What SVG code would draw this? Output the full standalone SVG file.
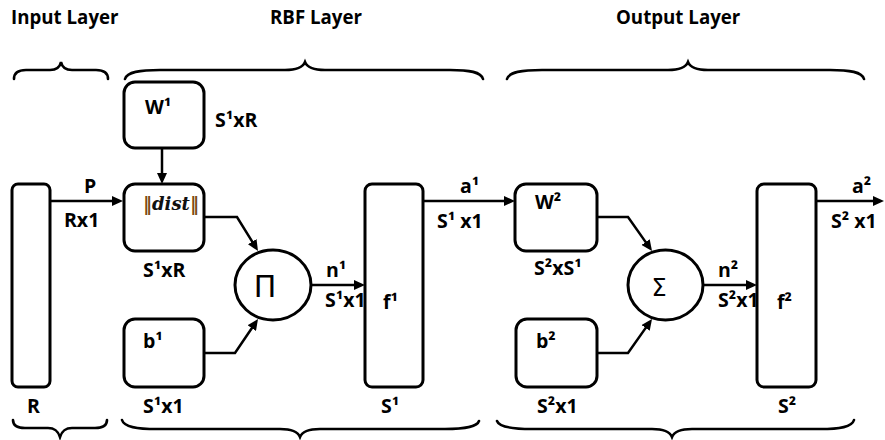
<svg xmlns="http://www.w3.org/2000/svg" width="885" height="440" viewBox="0 0 885 440">
<defs>
<style>
.box{fill:#fff;stroke:#000;stroke-width:3}
.ln{fill:none;stroke:#000;stroke-width:2.5}
.br{fill:none;stroke:#000;stroke-width:2.6;stroke-linecap:round}
.t{font-family:"Open Sans","Liberation Sans",sans-serif;font-weight:bold;font-size:19.5px;fill:#000}
.ttl{font-family:"Open Sans","Liberation Sans",sans-serif;font-weight:bold;font-size:18.7px;fill:#000}
.sym{font-family:"DejaVu Sans","Liberation Sans",sans-serif;fill:#000;text-anchor:middle}
</style>
<marker id="arr" viewBox="0 0 11 10" refX="5" refY="5" markerWidth="11" markerHeight="10" orient="auto" markerUnits="userSpaceOnUse">
<path d="M0,0 L11,5 L0,10 z" fill="#000"/>
</marker>
</defs>
<rect width="885" height="440" fill="#fff"/>

<g id="titles">
<text class="ttl" x="11" y="24">Input Layer</text>
<text class="ttl" x="270" y="24">RBF Layer</text>
<text class="ttl" x="616" y="24">Output Layer</text>
</g>

<g id="braces">
<path class="br" d="M14,79 Q14,70 26,70 L50,70 C57,70 60,67 61,62 C62,67 65,70 72,70 L96,70 Q108,70 108,79"/>
<path class="br" d="M125,79 C127,72 140,70 160,70 L285,70 C298,70 303,67 305,62 C307,67 312,70 325,70 L450,70 C470,70 481,72 483,79"/>
<path class="br" d="M507,79 C509,72 522,70 542,70 L668,70 C681,70 686,67 688,62 C690,67 695,70 708,70 L830,70 C850,70 862,72 864,79"/>
<path class="br" d="M13,420 Q13,428 25,428 L48,428 C55,428 58,431 60,437 C62,431 65,428 72,428 L95,428 Q107,428 107,420"/>
<path class="br" d="M122,420 C124,427 137,429 157,429 L280,429 C293,429 298,432 300,437 C302,432 307,429 320,429 L445,429 C465,429 477,427 479,421"/>
<path class="br" d="M497,421 C499,427 512,429 532,429 L652,429 C665,429 670,432 672,437 C674,432 679,429 692,429 L820,429 C840,429 852,427 854,420"/>
</g>

<g id="connectors">
<path class="ln" d="M50,201 H117" marker-end="url(#arr)"/>
<path class="ln" d="M162,148 V178" marker-end="url(#arr)"/>
<path class="ln" d="M204,217 H237 L254.85,245.9" marker-end="url(#arr)"/>
<path class="ln" d="M204,353 H235 L254.64,323.97" marker-end="url(#arr)"/>
<path class="ln" d="M311,285 H359" marker-end="url(#arr)"/>
<path class="ln" d="M423,201 H509" marker-end="url(#arr)"/>
<path class="ln" d="M597,217 H628 L648.54,246.1" marker-end="url(#arr)"/>
<path class="ln" d="M597,353 H628 L648.54,323.9" marker-end="url(#arr)"/>
<path class="ln" d="M703,285 H751" marker-end="url(#arr)"/>
<path class="ln" d="M816,201 H878" marker-end="url(#arr)"/>
</g>

<g id="input">
<rect class="box" x="12" y="184" width="38" height="203" rx="6"/>
<text class="t" x="27" y="413">R</text>
</g>
<g id="label-p">
<text class="t" x="84" y="193">P</text>
<text class="t" x="64" y="227">Rx1</text>
</g>

<g id="w1">
<rect class="box" x="124" y="82" width="80" height="66" rx="11"/>
<text class="t" x="145" y="114">W¹</text>
<text class="t" x="215" y="127">S¹xR</text>
</g>

<g id="dist">
<rect class="box" x="124" y="184" width="80" height="67" rx="11"/>
<text x="143" y="210" font-family="'DejaVu Serif','Liberation Serif',serif" font-weight="bold" font-size="18"><tspan fill="#7a4a10">‖</tspan><tspan font-style="italic" fill="#111">dist</tspan><tspan fill="#7a4a10">‖</tspan></text>
<text class="t" x="143" y="277">S¹xR</text>
</g>

<g id="b1">
<rect class="box" x="124" y="319" width="80" height="68" rx="11"/>
<text class="t" x="143" y="348">b¹</text>
<text class="t" x="143" y="413">S¹x1</text>
</g>

<g id="prod">
<ellipse class="box" cx="273" cy="285" rx="38" ry="35"/>
<text class="sym" x="265" y="297" font-size="30">Π</text>
</g>
<g id="label-n1">
<text class="t" x="326" y="277">n¹</text>
<text class="t" x="325" y="307" font-size="17">S¹x1</text>
</g>

<g id="f1">
<rect class="box" x="365" y="184" width="58" height="203" rx="7"/>
<text class="t" x="383" y="309">f¹</text>
<text class="t" x="381" y="413">S¹</text>
</g>
<g id="label-a1">
<text class="t" x="460" y="193">a¹</text>
<text class="t" x="437" y="228">S¹ x1</text>
</g>

<g id="w2">
<rect class="box" x="515" y="184" width="82" height="67" rx="11"/>
<text class="t" x="535" y="209">W²</text>
<text class="t" x="534" y="275">S²xS¹</text>
</g>

<g id="b2">
<rect class="box" x="516" y="319" width="81" height="68" rx="11"/>
<text class="t" x="536" y="348">b²</text>
<text class="t" x="537" y="413">S²x1</text>
</g>

<g id="sum">
<ellipse class="box" cx="665.5" cy="285" rx="37.5" ry="35"/>
<text class="sym" x="659" y="296" font-size="24">Σ</text>
</g>
<g id="label-n2">
<text class="t" x="718" y="277">n²</text>
<text class="t" x="718" y="307" font-size="17">S²x1</text>
</g>

<g id="f2">
<rect class="box" x="757" y="184" width="59" height="203" rx="7"/>
<text class="t" x="777" y="309">f²</text>
<text class="t" x="778" y="413">S²</text>
</g>
<g id="label-a2">
<text class="t" x="852" y="193">a²</text>
<text class="t" x="831" y="228">S² x1</text>
</g>
</svg>
